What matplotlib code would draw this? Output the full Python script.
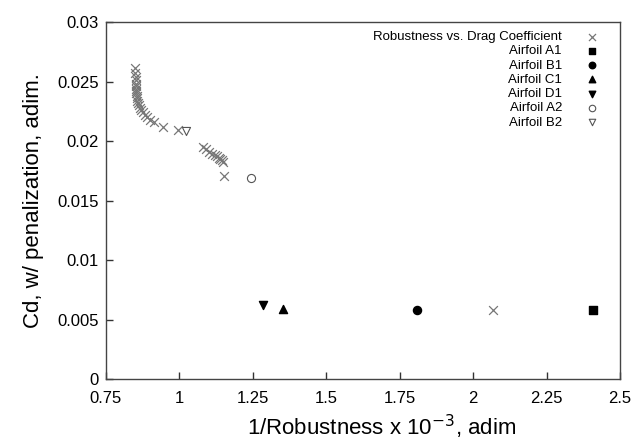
import numpy as np
import matplotlib.pyplot as plt
from matplotlib.ticker import FuncFormatter

plt.rcParams['font.family'] = ['Liberation Sans', 'DejaVu Sans']

# Robustness vs. Drag Coefficient (x markers)
rob_x = [0.850, 0.850, 0.851, 0.851, 0.852, 0.852, 0.853, 0.853, 0.854, 0.855,
         0.856, 0.857, 0.859, 0.862, 0.866, 0.870, 0.876, 0.882, 0.890, 0.900,
         0.915, 0.945, 0.995,
         1.080, 1.090, 1.100, 1.110, 1.120, 1.128, 1.135, 1.140, 1.145, 1.150,
         1.152, 2.069]
rob_y = [0.0261, 0.0257, 0.0254, 0.0251, 0.0248, 0.0246, 0.0244, 0.0242, 0.0240, 0.0238,
         0.0236, 0.0234, 0.0232, 0.0230, 0.0228, 0.0226, 0.0224, 0.0222, 0.0220, 0.0218,
         0.0216, 0.0212, 0.0209,
         0.0195, 0.0193, 0.0191, 0.0189, 0.0188, 0.0187, 0.0186, 0.0185, 0.0184, 0.0182,
         0.0171, 0.0058]

airfoil_names = ['Airfoil A1', 'Airfoil B1', 'Airfoil C1', 'Airfoil D1', 'Airfoil A2', 'Airfoil B2']
airfoil_x = [2.409, 1.808, 1.352, 1.284, 1.244, 1.022]
airfoil_y = [0.0058, 0.0058, 0.0059, 0.0062, 0.0169, 0.0208]
airfoil_markers = ['s', 'o', '^', 'v', 'o', 'v']
airfoil_filled = [True, True, True, True, False, False]

fig = plt.figure(figsize=(6.34, 4.44), dpi=100)
ax = fig.add_axes([0.167, 0.1464, 0.811, 0.804])

ax.scatter(rob_x, rob_y, marker='x', s=40, c='#777777', linewidths=0.9,
           label='Robustness vs. Drag Coefficient', zorder=3)
for name, x, y, m, f in zip(airfoil_names, airfoil_x, airfoil_y, airfoil_markers, airfoil_filled):
    if f:
        ax.scatter([x], [y], marker=m, s=34, c='black', label=name, zorder=4)
    else:
        ax.scatter([x], [y], marker=m, s=34, facecolors='white', edgecolors='#555555',
                   linewidths=0.8, label=name, zorder=4)

ax.set_xlim(0.75, 2.5)
ax.set_ylim(0, 0.03)
ax.set_xticks(np.arange(0.75, 2.51, 0.25))
ax.set_yticks(np.arange(0, 0.0301, 0.005))
ax.xaxis.set_major_formatter(FuncFormatter(lambda v, p: '%g' % round(v, 4)))
ax.yaxis.set_major_formatter(FuncFormatter(lambda v, p: '%g' % round(v, 4)))
ax.tick_params(direction='in', length=5, width=1, color='#333333', labelsize=12,
               top=False, right=False)
ax.tick_params(axis='x', pad=9)
ax.tick_params(axis='y', pad=5)
for s in ax.spines.values():
    s.set_color('#444444')
    s.set_linewidth(1)

ax.set_xlabel('1/Robustness x 10$^{-3}$, adim', fontsize=16)
ax.xaxis.set_label_coords(0.537, -0.095)
ax.set_ylabel('Cd, w/ penalization, adim.', fontsize=16)
ax.yaxis.set_label_coords(-0.12, 0.5)

leg = ax.legend(loc='upper right', bbox_to_anchor=(0.987, 0.997), frameon=False,
                markerfirst=False, fontsize=9.5, labelspacing=0.15, handletextpad=1.3,
                markerscale=0.8, borderaxespad=0.2)

fig.savefig('out.png', dpi=100)
